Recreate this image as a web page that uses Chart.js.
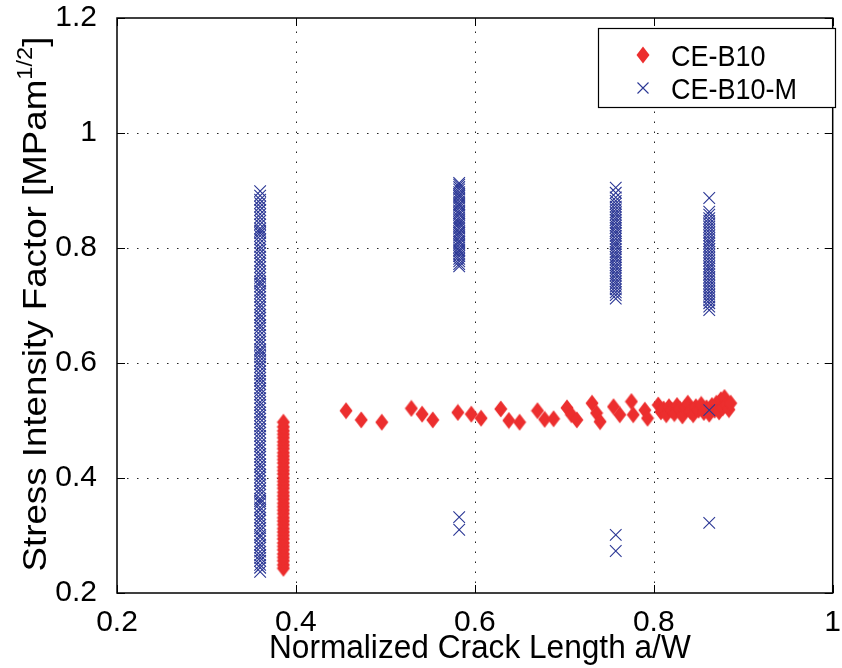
<!DOCTYPE html>
<html>
<head>
<meta charset="utf-8">
<script src="https://cdn.jsdelivr.net/npm/chart.js@4.4.1/dist/chart.umd.min.js"></script>
<style>
  html, body { margin: 0; padding: 0; background: #fff; }
  #wrap { width: 842px; height: 668px; }
</style>
</head>
<body>
<div id="wrap"><canvas id="sif" width="842" height="668"></canvas></div>
<script>
// axis ticks
const xTicks = [0.2, 0.4, 0.6, 0.8, 1.0];
const yTicks = [0.2, 0.4, 0.6, 0.8, 1.0, 1.2];

const seriesNames = ['CE-B10', 'CE-B10-M'];

// CE-B10 (red diamonds): vertical stack at a/W ~ 0.386
const redStackX = 0.386;
const redStackY = [0.243, 0.249, 0.256, 0.262, 0.268, 0.275, 0.281, 0.287, 0.294, 0.300,
  0.306, 0.312, 0.319, 0.325, 0.331, 0.338, 0.344, 0.350, 0.356, 0.363, 0.369, 0.375,
  0.382, 0.388, 0.394, 0.400, 0.407, 0.413, 0.419, 0.426, 0.432, 0.438, 0.444, 0.451,
  0.457, 0.463, 0.470, 0.476, 0.482, 0.489, 0.497];

// CE-B10 growth phase
const redTrendX = [0.456, 0.473, 0.496, 0.529, 0.541, 0.553, 0.581, 0.596, 0.607, 0.629,
  0.638, 0.650, 0.670, 0.678, 0.688, 0.703, 0.708, 0.714, 0.731, 0.736, 0.740, 0.755,
  0.762, 0.775, 0.777, 0.790, 0.793,
  0.805, 0.808, 0.811, 0.814, 0.817, 0.820, 0.823, 0.826, 0.829, 0.832, 0.835, 0.838,
  0.841, 0.844, 0.847, 0.850, 0.853, 0.856, 0.859, 0.862, 0.865, 0.868, 0.870, 0.873,
  0.875, 0.877, 0.879, 0.881, 0.884, 0.886];
const redTrendY = [0.517, 0.501, 0.497, 0.521, 0.511, 0.501, 0.514, 0.511, 0.504, 0.520,
  0.500, 0.497, 0.517, 0.502, 0.503, 0.522, 0.510, 0.501, 0.530, 0.513, 0.498, 0.524,
  0.510, 0.533, 0.510, 0.518, 0.504,
  0.527, 0.515, 0.520, 0.510, 0.524, 0.518, 0.512, 0.526, 0.520, 0.508, 0.522, 0.530,
  0.516, 0.510, 0.524, 0.518, 0.528, 0.514, 0.522, 0.511, 0.526, 0.518, 0.530, 0.515,
  0.536, 0.522, 0.540, 0.527, 0.519, 0.530];

// CE-B10-M (blue crosses): four columns
const blueX = [0.360, 0.5825, 0.7575, 0.862];
const blueY0 = [0.237, 0.244, 0.249, 0.256, 0.261, 0.266, 0.272, 0.279, 0.284, 0.290,
  0.297, 0.301, 0.308, 0.313, 0.319, 0.326, 0.331, 0.337, 0.344, 0.349, 0.356, 0.360,
  0.364, 0.371, 0.377, 0.382, 0.389, 0.395, 0.401, 0.406, 0.413, 0.419, 0.424, 0.431,
  0.437, 0.442, 0.449, 0.455, 0.460, 0.467, 0.473, 0.479, 0.485, 0.490, 0.497, 0.503,
  0.509, 0.514, 0.521, 0.527, 0.532, 0.539, 0.545, 0.551, 0.556, 0.563, 0.569, 0.574,
  0.580, 0.586, 0.593, 0.598, 0.604, 0.610, 0.615, 0.620, 0.624, 0.631, 0.637, 0.642,
  0.649, 0.655, 0.661, 0.666, 0.673, 0.679, 0.684, 0.691, 0.697, 0.702, 0.709, 0.715,
  0.721, 0.726, 0.733, 0.738, 0.742, 0.748, 0.754, 0.760, 0.767, 0.773, 0.778, 0.785,
  0.791, 0.797, 0.802, 0.809, 0.815, 0.821, 0.826, 0.830, 0.834, 0.841, 0.847, 0.853,
  0.859, 0.866, 0.872, 0.878, 0.884, 0.891, 0.899];
const blueY1 = [0.768, 0.772, 0.777, 0.781, 0.786, 0.790, 0.794, 0.797, 0.801, 0.806,
  0.810, 0.813, 0.818, 0.822, 0.826, 0.829, 0.834, 0.838, 0.842, 0.845, 0.849, 0.853,
  0.858, 0.861, 0.865, 0.870, 0.874, 0.877, 0.881, 0.886, 0.890, 0.893, 0.897, 0.902,
  0.906, 0.910, 0.913, 0.332, 0.310];
const blueY2 = [0.712, 0.718, 0.723, 0.728, 0.733, 0.738, 0.742, 0.747, 0.752, 0.756,
  0.761, 0.766, 0.770, 0.775, 0.780, 0.784, 0.789, 0.793, 0.798, 0.803, 0.807, 0.811,
  0.816, 0.821, 0.826, 0.830, 0.835, 0.839, 0.844, 0.849, 0.853, 0.858, 0.862, 0.867,
  0.872, 0.877, 0.882, 0.888, 0.896, 0.905, 0.301, 0.273];
const blueY3 = [0.692, 0.698, 0.704, 0.709, 0.714, 0.719, 0.724, 0.729, 0.734, 0.739,
  0.744, 0.749, 0.754, 0.759, 0.764, 0.768, 0.773, 0.778, 0.783, 0.788, 0.793, 0.798,
  0.803, 0.808, 0.812, 0.817, 0.822, 0.827, 0.832, 0.837, 0.842, 0.847, 0.852, 0.858,
  0.863, 0.887, 0.518, 0.322];

const RED = '#ec2e2e';
const BLUE = '#2b3795';
const FONT = "'Liberation Sans', Arial, Helvetica, sans-serif";

function makeDiamond() {
  const c = document.createElement('canvas');
  c.width = 14; c.height = 18;
  const g = c.getContext('2d');
  g.fillStyle = RED;
  g.beginPath();
  g.moveTo(7, 0.5); g.lineTo(13.5, 9); g.lineTo(7, 17.5); g.lineTo(0.5, 9);
  g.closePath(); g.fill();
  return c;
}
const diamond = makeDiamond();

const redPts = [];
redStackY.forEach(y => redPts.push({ x: redStackX, y: y }));
redTrendX.forEach((x, i) => redPts.push({ x: x, y: redTrendY[i] }));

const bluePts = [];
[blueY0, blueY1, blueY2, blueY3].forEach((ys, k) => {
  ys.forEach(y => bluePts.push({ x: blueX[k], y: y }));
});

function drawCross(ctx, x, y) {
  ctx.save();
  ctx.strokeStyle = BLUE; ctx.lineWidth = 1.1;
  ctx.beginPath();
  ctx.moveTo(x - 5.5, y - 5.5); ctx.lineTo(x + 5.5, y + 5.5);
  ctx.moveTo(x + 5.5, y - 5.5); ctx.lineTo(x - 5.5, y + 5.5);
  ctx.stroke();
  ctx.restore();
}

// text squeezed a little horizontally, like the Helvetica of the original
function narrowText(ctx, str, x, y, size, squeeze) {
  ctx.save();
  ctx.translate(x, y);
  ctx.scale(squeeze, 1);
  ctx.font = size + 'px ' + FONT;
  ctx.fillText(str, 0, 0);
  ctx.restore();
}

const tickFmt = v => String(Math.round(v * 10) / 10);

// dotted grid behind the points
const gridPlugin = {
  id: 'matlabGrid',
  beforeDatasetsDraw(chart) {
    const { ctx, chartArea: a, scales: { x, y } } = chart;
    ctx.save();
    ctx.strokeStyle = '#222';
    ctx.lineWidth = 1;
    ctx.setLineDash([1.5, 8.5]);
    xTicks.slice(1, -1).forEach(v => {
      const px = Math.round(x.getPixelForValue(v)) + 0.5;
      ctx.beginPath(); ctx.moveTo(px, a.bottom); ctx.lineTo(px, a.top); ctx.stroke();
    });
    yTicks.slice(1, -1).forEach(v => {
      const py = Math.round(y.getPixelForValue(v)) + 0.5;
      ctx.beginPath(); ctx.moveTo(a.left, py); ctx.lineTo(a.right, py); ctx.stroke();
    });
    ctx.restore();
  },
  afterDatasetsDraw(chart) {
    const { ctx, chartArea: a, scales: { x, y } } = chart;
    ctx.save();
    // box
    ctx.strokeStyle = '#000';
    ctx.lineWidth = 1.5;
    ctx.strokeRect(a.left, a.top, a.right - a.left, a.bottom - a.top);
    // inward ticks
    ctx.lineWidth = 1;
    const tl = 8;
    ctx.beginPath();
    xTicks.forEach(v => {
      const px = Math.round(x.getPixelForValue(v)) + 0.5;
      ctx.moveTo(px, a.bottom); ctx.lineTo(px, a.bottom - tl);
      ctx.moveTo(px, a.top); ctx.lineTo(px, a.top + tl);
    });
    yTicks.forEach(v => {
      const py = Math.round(y.getPixelForValue(v)) + 0.5;
      ctx.moveTo(a.left, py); ctx.lineTo(a.left + tl, py);
      ctx.moveTo(a.right, py); ctx.lineTo(a.right - tl, py);
    });
    ctx.stroke();

    // legend
    ctx.fillStyle = '#fff';
    ctx.fillRect(598, 28, 238, 80);
    ctx.strokeStyle = '#000';
    ctx.lineWidth = 1.2;
    ctx.strokeRect(598.5, 28.5, 237, 79);
    ctx.drawImage(diamond, 643 - 7, 55 - 9);
    drawCross(ctx, 643, 88);
    ctx.fillStyle = '#000';
    ctx.textBaseline = 'alphabetic';
    ctx.textAlign = 'left';
    narrowText(ctx, seriesNames[0], 671, 66, 30, 0.9);
    narrowText(ctx, seriesNames[1], 671, 99, 30, 0.9);

    // x title
    const xt = 'Normalized Crack Length a/W';
    ctx.font = '34px ' + FONT;
    const xw = ctx.measureText(xt).width * 0.93;
    narrowText(ctx, xt, (a.left + a.right) / 2 - xw / 2 + 5, 658, 34, 0.93);

    // y title with superscript
    ctx.translate(46, 304);
    ctx.rotate(-Math.PI / 2);
    ctx.scale(1.08, 1);
    const p1 = 'Stress Intensity Factor [MPam', p2 = '1/2', p3 = ']';
    ctx.font = '34px ' + FONT;
    const w1 = ctx.measureText(p1).width, w3 = ctx.measureText(p3).width;
    ctx.font = '22px ' + FONT;
    const w2 = ctx.measureText(p2).width;
    const sx = -(w1 + w2 + w3) / 2;
    ctx.font = '34px ' + FONT;
    ctx.fillText(p1, sx, 0);
    ctx.font = '22px ' + FONT;
    ctx.fillText(p2, sx + w1, -14);
    ctx.font = '34px ' + FONT;
    ctx.fillText(p3, sx + w1 + w2, 0);
    ctx.restore();
  }
};

new Chart(document.getElementById('sif'), {
  type: 'scatter',
  data: {
    datasets: [
      {
        label: seriesNames[0],
        data: redPts,
        pointStyle: diamond,
        backgroundColor: RED,
        borderColor: RED,
        order: 1
      },
      {
        label: seriesNames[1],
        data: bluePts,
        pointStyle: 'crossRot',
        pointRadius: 8.2,
        borderWidth: 1.1,
        borderColor: BLUE,
        backgroundColor: BLUE,
        order: 0
      }
    ]
  },
  options: {
    responsive: false,
    animation: false,
    layout: { padding: { top: 18, right: 3, left: 0, bottom: 0 } },
    plugins: { legend: { display: false }, tooltip: { enabled: false } },
    scales: {
      x: {
        type: 'linear', min: 0.2, max: 1.0,
        afterFit: s => { s.height = 75; s.paddingLeft = 0; s.paddingRight = 0; },
        afterBuildTicks: s => { s.ticks = xTicks.map(v => ({ value: v })); },
        grid: { display: false },
        border: { display: false },
        ticks: { color: '#000', padding: 4, maxRotation: 0, font: { family: FONT, size: 30 }, callback: tickFmt }
      },
      y: {
        type: 'linear', min: 0.2, max: 1.2,
        afterFit: s => { s.width = 117; s.paddingTop = 0; s.paddingBottom = 0; },
        afterBuildTicks: s => { s.ticks = yTicks.map(v => ({ value: v })); },
        grid: { display: false },
        border: { display: false },
        ticks: { color: '#000', padding: 12, font: { family: FONT, size: 30 }, callback: tickFmt }
      }
    }
  },
  plugins: [gridPlugin]
});
</script>
</body>
</html>
